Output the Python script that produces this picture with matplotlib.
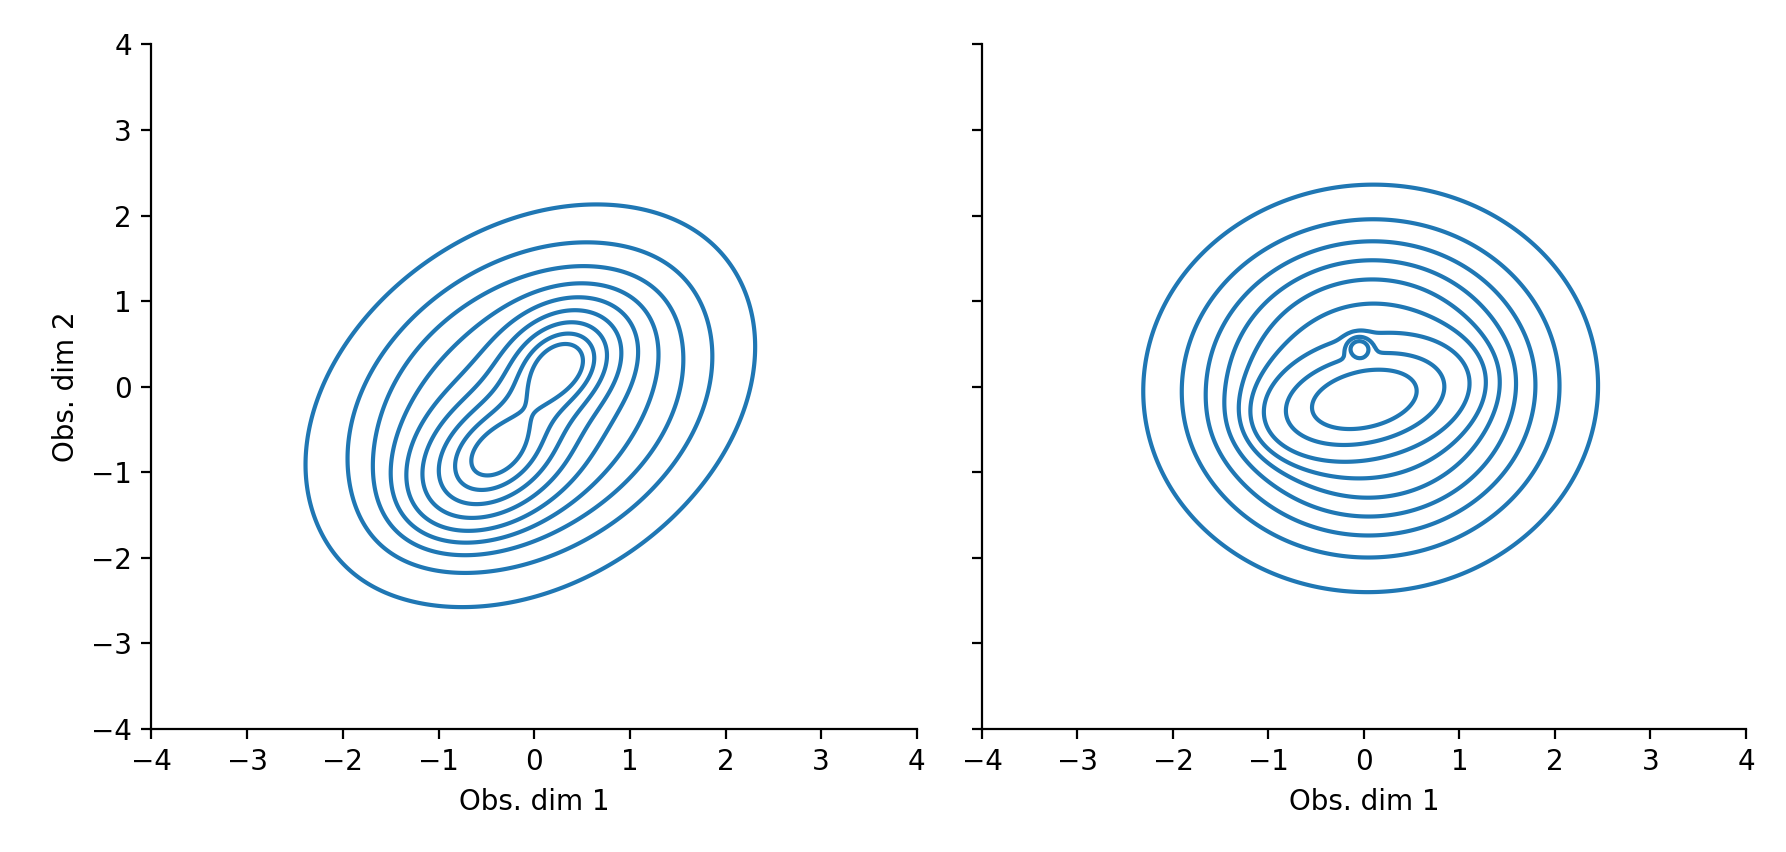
import numpy as np
import matplotlib
matplotlib.use("Agg")
import matplotlib.pyplot as plt

# Density of each panel described as a mixture of (generalised) Gaussian bumps,
# with centres / shapes / weights.
left_means = [(-0.04, -0.22), (-0.10, -0.30), (-0.42, -0.85), (0.28, 0.30)]
left_shapes = [[[3.95, 1.15], [1.15, 3.95]],
               [[0.45, 0.32], [0.32, 0.50]],
               [[0.24, 0.08], [0.08, 0.24]],
               [[0.13, 0.03], [0.03, 0.14]]]
left_weights = [0.71, 0.08, 0.13, 0.08]
left_powers = [3.5, 2.0, 2.0, 2.0]

right_means = [(0.07, -0.02), (0.0, -0.15), (-0.05, 0.45)]
right_shapes = [[[3.85, 0.05], [0.05, 3.85]],
                [[0.28, 0.05], [0.05, 0.11]],
                [[0.006, 0.0], [0.0, 0.006]]]
right_weights = [0.866, 0.13, 0.004]
right_powers = [3.5, 2.0, 2.0]

ticks = [-4, -3, -2, -1, 0, 1, 2, 3, 4]
xlabel = "Obs. dim 1"
ylabel = "Obs. dim 2"
n_levels = 10
thresh = 0.05
color = "#1f77b4"


def mixture(X, Y, means, shapes, weights, powers):
    Z = np.zeros_like(X)
    for m, c, w, p in zip(means, shapes, weights, powers):
        inv = np.linalg.inv(np.asarray(c))
        dx = X - m[0]
        dy = Y - m[1]
        q = inv[0, 0] * dx * dx + 2 * inv[0, 1] * dx * dy + inv[1, 1] * dy * dy
        comp = np.exp(-0.5 * q) if p == 2.0 else np.exp(-q ** (p / 2.0))
        Z += w * comp / comp.sum()
    return Z


def iso_levels(Z, props):
    vals = np.ravel(Z)
    s = np.sort(vals)[::-1]
    cum = np.cumsum(s) / vals.sum()
    idx = np.searchsorted(cum, 1 - np.asarray(props))
    return np.take(s, idx, mode="clip")


g = np.linspace(-5, 5, 500)
X, Y = np.meshgrid(g, g)

fig = plt.figure(figsize=(8.93, 4.26), dpi=200)
ax1 = fig.add_axes([0.0848, 0.1444, 0.4286, 0.8035])
ax2 = fig.add_axes([0.5498, 0.1444, 0.4278, 0.8035], sharey=ax1)

for ax, params in zip(
        [ax1, ax2],
        [(left_means, left_shapes, left_weights, left_powers),
         (right_means, right_shapes, right_weights, right_powers)]):
    Z = mixture(X, Y, *params)
    lv = np.unique(iso_levels(Z, np.linspace(thresh, 1, n_levels)))
    ax.contour(X, Y, Z, levels=lv, colors=color, linewidths=1.5)
    ax.set_xlim(-4, 4)
    ax.set_ylim(-4, 4)
    ax.set_xticks(ticks)
    ax.set_yticks(ticks)
    ax.set_xlabel(xlabel, fontsize=10)
    for s in ["top", "right"]:
        ax.spines[s].set_visible(False)
    ax.tick_params(labelsize=10)

ax1.set_ylabel(ylabel, fontsize=10)
ax2.tick_params(labelleft=False)

fig.savefig("out.png", dpi=200)
